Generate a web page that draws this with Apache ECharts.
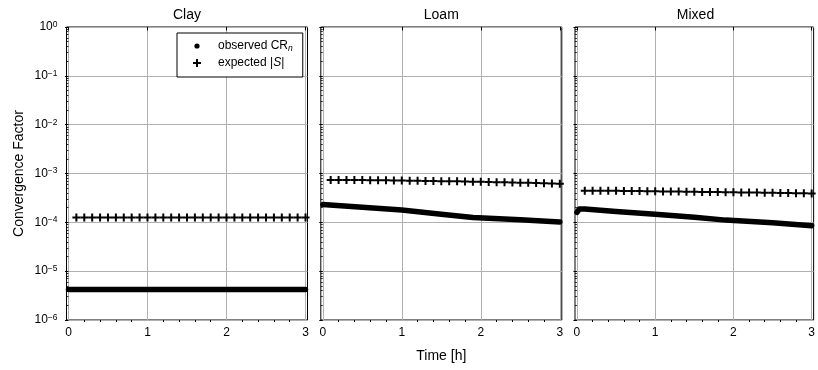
<!DOCTYPE html>
<html>
<head>
<meta charset="utf-8">
<script src="https://cdn.jsdelivr.net/npm/echarts@6/dist/echarts.min.js"></script>
<style>
html,body{margin:0;padding:0;background:#fff;}
#chart{width:818px;height:370px;}
</style>
</head>
<body>
<div id="chart"></div>
<script>
// ---- data ----
const panels = ['Clay', 'Loam', 'Mixed'];
const xTicks = [0, 1, 2, 3];
const yTicks = [1e-6, 1e-5, 1e-4, 1e-3, 1e-2, 1e-1, 1];

// observed CR_n (time [h], value)
const clayObsTime = [0, 0.5, 1.0, 1.5, 2.0, 2.5, 3.0];
const clayObs = [4.2e-6, 4.2e-6, 4.2e-6, 4.2e-6, 4.2e-6, 4.2e-6, 4.2e-6];
const loamObsTime = [0, 0.5, 1.0, 1.5, 1.9, 2.5, 3.0];
const loamObs = [2.33e-4, 2.03e-4, 1.78e-4, 1.47e-4, 1.26e-4, 1.13e-4, 1.02e-4];
const mixedObsTime = [0, 0.03, 0.1, 0.5, 1.0, 1.5, 1.9, 2.5, 3.0];
const mixedObs = [1.6e-4, 1.87e-4, 1.87e-4, 1.66e-4, 1.47e-4, 1.27e-4, 1.11e-4, 0.98e-4, 0.85e-4];

// expected |S|
const expTime = [0.1, 0.2, 0.3, 0.4, 0.5, 0.6, 0.7, 0.8, 0.9, 1.0,
                 1.1, 1.2, 1.3, 1.4, 1.5, 1.6, 1.7, 1.8, 1.9, 2.0,
                 2.1, 2.2, 2.3, 2.4, 2.5, 2.6, 2.7, 2.8, 2.9, 3.0];
const clayExp = [1.26e-4, 1.26e-4, 1.26e-4, 1.26e-4, 1.26e-4, 1.26e-4, 1.26e-4, 1.26e-4, 1.26e-4, 1.26e-4,
                 1.26e-4, 1.26e-4, 1.26e-4, 1.26e-4, 1.26e-4, 1.26e-4, 1.26e-4, 1.26e-4, 1.26e-4, 1.26e-4,
                 1.26e-4, 1.26e-4, 1.26e-4, 1.26e-4, 1.26e-4, 1.26e-4, 1.26e-4, 1.26e-4, 1.26e-4, 1.26e-4];
const loamExp = [7.40e-4, 7.38e-4, 7.36e-4, 7.34e-4, 7.32e-4, 7.30e-4, 7.27e-4, 7.24e-4, 7.21e-4, 7.18e-4,
                 7.14e-4, 7.10e-4, 7.06e-4, 7.02e-4, 6.98e-4, 6.94e-4, 6.90e-4, 6.85e-4, 6.80e-4, 6.75e-4,
                 6.70e-4, 6.65e-4, 6.60e-4, 6.55e-4, 6.50e-4, 6.44e-4, 6.38e-4, 6.32e-4, 6.26e-4, 6.20e-4];
const mixedExp = [4.45e-4, 4.44e-4, 4.43e-4, 4.42e-4, 4.41e-4, 4.40e-4, 4.38e-4, 4.36e-4, 4.34e-4, 4.32e-4,
                  4.30e-4, 4.28e-4, 4.26e-4, 4.24e-4, 4.22e-4, 4.20e-4, 4.18e-4, 4.16e-4, 4.14e-4, 4.12e-4,
                  4.10e-4, 4.08e-4, 4.06e-4, 4.04e-4, 4.02e-4, 4.00e-4, 3.98e-4, 3.96e-4, 3.93e-4, 3.90e-4];

const obsTimes = [clayObsTime, loamObsTime, mixedObsTime];
const obsVals = [clayObs, loamObs, mixedObs];
const expVals = [clayExp, loamExp, mixedExp];

// ---- layout / decoration ----
const FONT = 'Liberation Sans, Arial, Helvetica, sans-serif';
const gridLefts = [66.5, 320.8, 575];
const gridW = 241, gridTop = 27, gridH = 293;

const minorX = [];
for (let i = 0; i < 3; i++) for (let k = 1; k < 5; k++) minorX.push(i + k * 0.2);
const minorYExp = [];
for (let e = -6; e < 0; e++) for (let k = 2; k < 10; k++) minorYExp.push(e + Math.log10(k));

const plusPath = 'path://M3,0H5V3H8V5H5V8H3V5H0V3H3Z';

function svgIcon(inner) {
  return 'image://data:image/svg+xml;charset=utf-8,' + encodeURIComponent(
    '<svg xmlns="http://www.w3.org/2000/svg" width="20" height="8" viewBox="0 0 20 8">' + inner + '</svg>');
}
const dotIcon = svgIcon('<circle cx="4" cy="4" r="2.6" fill="#000"/>');
const plusIcon = svgIcon('<path d="M3,0H5V3H8V5H5V8H3V5H0V3H3Z" fill="#000"/>');

const grids = [], xAxes = [], yAxes = [], series = [], titles = [];
for (let i = 0; i < 3; i++) {
  grids.push({ left: gridLefts[i], top: gridTop, width: gridW, height: gridH,
    show: true, borderColor: '#000', borderWidth: 1, backgroundColor: 'transparent', containLabel: false });
  titles.push({ text: panels[i], left: gridLefts[i] + gridW / 2, top: 8, textAlign: 'center', padding: 0,
    textStyle: { fontFamily: FONT, fontSize: 14, fontWeight: 'normal', color: '#000' } });
  xAxes.push({
    gridIndex: i, type: 'value', min: -0.025, max: 3.025, position: 'bottom',
    axisLine: { show: false },
    axisTick: { show: true, customValues: xTicks, length: 3.5, lineStyle: { color: '#000', width: 1 } },
    axisLabel: { show: true, customValues: xTicks, fontFamily: FONT, fontSize: 12, color: '#000', margin: 7 },
    splitLine: { show: true, lineStyle: { color: '#b0b0b0', width: 1 } },
    name: i === 1 ? 'Time [h]' : '', nameLocation: 'middle', nameGap: 29,
    nameTextStyle: { fontFamily: FONT, fontSize: 14, color: '#000' }
  });
  xAxes.push({
    gridIndex: i, type: 'value', min: -0.025, max: 3.025, position: 'bottom',
    axisLine: { show: false },
    axisTick: { show: true, customValues: minorX, length: 2, lineStyle: { color: '#000', width: 1 } },
    axisLabel: { show: false }, splitLine: { show: false }
  });
  yAxes.push({
    gridIndex: i, type: 'log', logBase: 10, min: 1e-6, max: 1, splitNumber: 6, position: 'left',
    axisLine: { show: false },
    axisTick: { show: true, length: 3.5, lineStyle: { color: '#000', width: 1 } },
    axisLabel: { show: i === 0, margin: 9, color: '#000', fontFamily: FONT,
      formatter: function (v) {
        const e = Math.round(Math.log10(v));
        return '{b|10}{s|' + (e < 0 ? '\u2212' : '') + Math.abs(e) + '}';
      },
      rich: {
        b: { fontSize: 12, lineHeight: 14, fontFamily: FONT, color: '#000', verticalAlign: 'middle' },
        s: { fontSize: 8.5, lineHeight: 5, fontFamily: FONT, color: '#000', verticalAlign: 'top' }
      }
    },
    splitLine: { show: true, lineStyle: { color: '#b0b0b0', width: 1 } },
    name: i === 0 ? 'Convergence Factor' : '', nameLocation: 'middle', nameGap: 40, nameRotate: 90,
    nameTextStyle: { fontFamily: FONT, fontSize: 14, color: '#000' }
  });
  yAxes.push({
    gridIndex: i, type: 'value', min: -6, max: 0, position: 'left',
    axisLine: { show: false },
    axisTick: { show: true, customValues: minorYExp, length: 2, lineStyle: { color: '#000', width: 0.8 } },
    axisLabel: { show: false }, splitLine: { show: false }
  });
  series.push({
    name: 'observed', type: 'line', xAxisIndex: 2 * i, yAxisIndex: 2 * i,
    data: obsTimes[i].map((t, j) => [t, obsVals[i][j]]),
    symbol: 'none', showSymbol: false, clip: true, z: 3,
    lineStyle: { color: '#000', width: 5.5, cap: 'round', join: 'round' },
    itemStyle: { color: '#000' }, silent: true, animation: false
  });
  series.push({
    name: 'expected', type: 'scatter', xAxisIndex: 2 * i, yAxisIndex: 2 * i,
    data: expTime.map((t, j) => [t, expVals[i][j]]),
    symbol: plusPath, symbolSize: 8, z: 4,
    itemStyle: { color: '#000', opacity: 1 }, silent: true, animation: false
  });
}

const chart = echarts.init(document.getElementById('chart'), null, { renderer: 'canvas' });
chart.setOption({
  animation: false,
  backgroundColor: '#fff',
  title: titles,
  grid: grids,
  xAxis: xAxes,
  yAxis: yAxes,
  legend: {
    orient: 'vertical', left: 177, top: 33,
    padding: [6, 10, 7, 16], itemGap: 3, itemWidth: 20, itemHeight: 8,
    borderColor: '#000', borderWidth: 1, backgroundColor: '#fff', borderRadius: 0,
    selectedMode: false,
    data: [{ name: 'observed', icon: dotIcon }, { name: 'expected', icon: plusIcon }],
    formatter: function (n) { return n === 'observed' ? 'observed CR{sub|n}' : 'expected |{it|S}|'; },
    textStyle: { fontFamily: FONT, fontSize: 12, color: '#000', lineHeight: 14,
      rich: {
        sub: { fontFamily: FONT, fontSize: 8.5, fontStyle: 'italic', color: '#000', lineHeight: 14, verticalAlign: 'bottom' },
        it: { fontFamily: FONT, fontSize: 12, fontStyle: 'italic', color: '#000', lineHeight: 14 }
      }
    }
  },
  series: series
});
</script>
</body>
</html>
